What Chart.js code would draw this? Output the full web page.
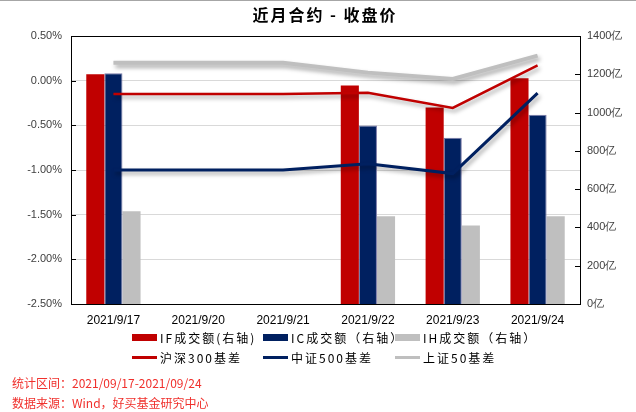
<!DOCTYPE html>
<html><head><meta charset="utf-8">
<script src="https://cdn.jsdelivr.net/npm/chart.js@4"></script>
<style>html,body{margin:0;padding:0;background:#fff;}#wrap{width:636px;height:412px;position:relative;}</style>
</head><body><div id="wrap"><canvas id="c" width="636" height="412"></canvas></div>
<script>
const categories = ['2021/9/17','2021/9/20','2021/9/21','2021/9/22','2021/9/23','2021/9/24'];
const ifVolume = [1200, null, null, 1142, 1026, 1179];
const icVolume = [1205, null, null, 932, 868, 989];
const ihVolume = [484, null, null, 458, 410, 458];
const hs300Basis = [-0.15, -0.15, -0.15, -0.135, -0.305, 0.17];
const zz500Basis = [-1.00, -1.00, -1.00, -0.93, -1.04, -0.14];
const sz50Basis = [0.20, 0.20, 0.20, 0.09, 0.02, 0.28];
const leftTicks = [-2.5, -2.0, -1.5, -1.0, -0.5, 0.0, 0.5];
const rightTicks = [0, 200, 400, 600, 800, 1000, 1200, 1400];
const titleText = '近月合约 - 收盘价';
const footer1 = '统计区间：2021/09/17-2021/09/24';
const footer2 = '数据来源：Wind，好买基金研究中心';

const RED = '#C00000', NAVY = '#002060', GRAY = '#BFBFBF';
const CJK = '"Noto Sans CJK SC", "Liberation Sans", sans-serif';

const shadowPlugin = {
  id: 'shadow',
  beforeDatasetDraw(chart, args) {
    const ds = chart.data.datasets[args.index];
    if (ds.type === 'line') {
      const ctx = chart.ctx;
      ctx.save();
      ctx.shadowColor = 'rgba(0,0,0,0.35)';
      ctx.shadowBlur = 4;
      ctx.shadowOffsetX = 2;
      ctx.shadowOffsetY = 3;
    }
  },
  afterDatasetDraw(chart, args) {
    const ds = chart.data.datasets[args.index];
    if (ds.type === 'line') chart.ctx.restore();
  }
};

const decoPlugin = {
  id: 'deco',
  afterDraw(chart) {
    const ctx = chart.ctx, a = chart.chartArea;
    ctx.save();
    ctx.strokeStyle = '#000'; ctx.lineWidth = 1;
    ctx.strokeRect(Math.round(a.left)+0.5, Math.round(a.top)+0.5, Math.round(a.right-a.left), Math.round(a.bottom-a.top));
    const yl = chart.scales.y, yr = chart.scales.y1;
    ctx.beginPath();
    leftTicks.forEach(v => { const y = Math.round(yl.getPixelForValue(v))+0.5; ctx.moveTo(a.left, y); ctx.lineTo(a.left+5, y); });
    rightTicks.forEach(v => { const y = Math.round(yr.getPixelForValue(v))+0.5; ctx.moveTo(a.right-5, y); ctx.lineTo(a.right, y); });
    ctx.stroke();
    ctx.strokeStyle = '#A6A6A6'; ctx.beginPath(); ctx.moveTo(0,0.5); ctx.lineTo(636,0.5); ctx.stroke();
    ctx.fillStyle = '#000';
    ctx.font = 'bold 16px ' + CJK;
    ctx.textAlign = 'center'; ctx.textBaseline = 'middle';
    try { ctx.letterSpacing = '2px'; } catch(e) {}
    ctx.fillText(titleText, 325, 15);
    ctx.font = '12px ' + CJK;
    ctx.textAlign = 'left';
    try { ctx.letterSpacing = '2px'; } catch(e) {}
    const cols = [132, 263, 395];
    const ds = chart.data.datasets;
    const bars = ds.filter(d => d.type === 'bar');
    const lines = ds.filter(d => d.type === 'line');
    bars.forEach((d, i) => {
      ctx.fillStyle = d.backgroundColor;
      ctx.fillRect(cols[i], 334, 25, 7);
      ctx.fillStyle = '#000';
      ctx.fillText(d.label, cols[i] + 28, 338);
    });
    lines.forEach((d, i) => {
      ctx.strokeStyle = d.borderColor; ctx.lineWidth = 3;
      ctx.beginPath(); ctx.moveTo(cols[i], 357.5); ctx.lineTo(cols[i] + 25, 357.5); ctx.stroke();
      ctx.fillStyle = '#000';
      ctx.fillText(d.label, cols[i] + 28, 358);
    });
    try { ctx.letterSpacing = '0px'; } catch(e) {}
    ctx.fillStyle = '#F0302C';
    ctx.font = '12px ' + CJK;
    ctx.fillText(footer1, 12, 383);
    ctx.fillText(footer2, 12, 403);
    ctx.restore();
  }
};

new Chart(document.getElementById('c'), {
  data: {
    labels: categories,
    datasets: [
      { type: 'bar', label: 'IF成交额(右轴)', data: ifVolume, yAxisID: 'y1', backgroundColor: RED, order: 2, barPercentage: 1.0, categoryPercentage: 0.64 },
      { type: 'bar', label: 'IC成交额（右轴）', data: icVolume, yAxisID: 'y1', backgroundColor: NAVY, borderColor: '#7A7AA8', borderWidth: 1, order: 2, barPercentage: 1.0, categoryPercentage: 0.64 },
      { type: 'bar', label: 'IH成交额（右轴）', data: ihVolume, yAxisID: 'y1', backgroundColor: GRAY, order: 2, barPercentage: 1.0, categoryPercentage: 0.64 },
      { type: 'line', label: '沪深300基差', data: hs300Basis, yAxisID: 'y', borderColor: RED, backgroundColor: RED, borderWidth: 2.5, pointRadius: 0, tension: 0, order: 1 },
      { type: 'line', label: '中证500基差', data: zz500Basis, yAxisID: 'y', borderColor: NAVY, backgroundColor: NAVY, borderWidth: 3, pointRadius: 0, tension: 0, order: 1 },
      { type: 'line', label: '上证50基差', data: sz50Basis, yAxisID: 'y', borderColor: GRAY, backgroundColor: GRAY, borderWidth: 4, pointRadius: 0, tension: 0, order: 1 }
    ]
  },
  options: {
    responsive: false,
    animation: false,
    devicePixelRatio: 1,
    layout: { padding: { left: 0, right: 0, top: 36, bottom: 84 } },
    plugins: { legend: { display: false }, title: { display: false }, tooltip: { enabled: false } },
    scales: {
      x: {
        grid: { display: false, drawTicks: false },
        border: { display: true, color: '#000' },
        ticks: { color: '#000', font: { size: 12, family: '"Liberation Sans", Arial, sans-serif' }, padding: 9, maxRotation: 0, autoSkip: false },
        afterFit(s) { s.height = 24; }
      },
      y: {
        position: 'left', min: -2.5, max: 0.5,
        afterBuildTicks(s) { s.ticks = leftTicks.map(v => ({ value: v })); },
        grid: { color: '#D9D9D9', drawTicks: false },
        border: { display: true, color: '#000' },
        ticks: { color: '#404040', font: { size: 11, family: '"Liberation Sans", Arial, sans-serif' }, padding: 9, callback: v => v.toFixed(2) + '%' },
        afterFit(s) { s.width = 71; }
      },
      y1: {
        position: 'right', min: 0, max: 1400,
        afterBuildTicks(s) { s.ticks = rightTicks.map(v => ({ value: v })); },
        grid: { display: false, drawTicks: false },
        border: { display: true, color: '#000' },
        ticks: { color: '#404040', font: { size: 11, family: '"Liberation Sans", Arial, sans-serif' }, padding: 7, callback: v => v + '亿' },
        afterFit(s) { s.width = 56; }
      }
    }
  },
  plugins: [shadowPlugin, decoPlugin]
});
</script>
</body></html>
